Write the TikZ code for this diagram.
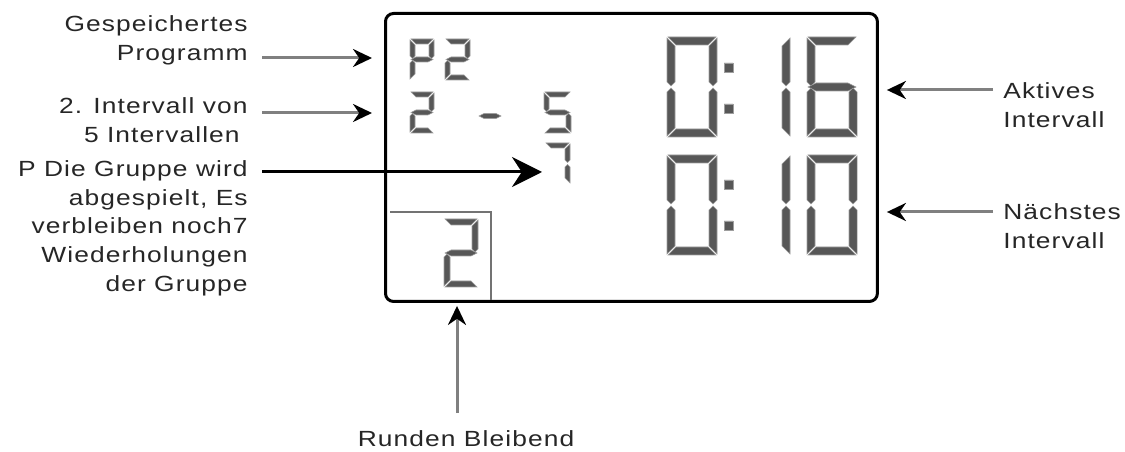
\documentclass[tikz,border=0pt]{standalone}
\usepackage{fontspec}
\setmainfont{Liberation Sans}[LetterSpace=5, FakeStretch=1.2]
\usetikzlibrary{arrows.meta}

% one seven-segment digit: x, y (top left), width, height, stroke, segments
\newcommand\lcddigit[6]{%
  \def\dgX{#1}\def\dgY{#2}\def\dgW{#3}\def\dgH{#4}\def\dgT{#5}%
  \foreach \dgS in {#6}{\csname lcdseg\dgS\endcsname}}
\newcommand\lcdsega{\filldraw[lcdseg] ({\dgX+1},\dgY) -- ({\dgX+\dgW-1},\dgY) -- ({\dgX+\dgW-1-\dgT},{\dgY+\dgT}) -- ({\dgX+1+\dgT},{\dgY+\dgT}) -- cycle;}
\newcommand\lcdsegb{\filldraw[lcdseg] ({\dgX+\dgW},{\dgY+1}) -- ({\dgX+\dgW},{\dgY+\dgH/2-\dgT/2-1}) -- ({\dgX+\dgW-\dgT/2},{\dgY+\dgH/2-1}) -- ({\dgX+\dgW-\dgT},{\dgY+\dgH/2-\dgT/2-1}) -- ({\dgX+\dgW-\dgT},{\dgY+\dgT+1}) -- cycle;}
\newcommand\lcdsegc{\filldraw[lcdseg] ({\dgX+\dgW},{\dgY+\dgH-1}) -- ({\dgX+\dgW},{\dgY+\dgH/2+\dgT/2+1}) -- ({\dgX+\dgW-\dgT/2},{\dgY+\dgH/2+1}) -- ({\dgX+\dgW-\dgT},{\dgY+\dgH/2+\dgT/2+1}) -- ({\dgX+\dgW-\dgT},{\dgY+\dgH-\dgT-1}) -- cycle;}
\newcommand\lcdsegd{\filldraw[lcdseg] ({\dgX+1},{\dgY+\dgH}) -- ({\dgX+\dgW-1},{\dgY+\dgH}) -- ({\dgX+\dgW-1-\dgT},{\dgY+\dgH-\dgT}) -- ({\dgX+1+\dgT},{\dgY+\dgH-\dgT}) -- cycle;}
\newcommand\lcdsege{\filldraw[lcdseg] (\dgX,{\dgY+\dgH-1}) -- (\dgX,{\dgY+\dgH/2+\dgT/2+1}) -- ({\dgX+\dgT/2},{\dgY+\dgH/2+1}) -- ({\dgX+\dgT},{\dgY+\dgH/2+\dgT/2+1}) -- ({\dgX+\dgT},{\dgY+\dgH-\dgT-1}) -- cycle;}
\newcommand\lcdsegf{\filldraw[lcdseg] (\dgX,{\dgY+1}) -- (\dgX,{\dgY+\dgH/2-\dgT/2-1}) -- ({\dgX+\dgT/2},{\dgY+\dgH/2-1}) -- ({\dgX+\dgT},{\dgY+\dgH/2-\dgT/2-1}) -- ({\dgX+\dgT},{\dgY+\dgT+1}) -- cycle;}
\newcommand\lcdsegg{\filldraw[lcdseg] ({\dgX+1},{\dgY+\dgH/2}) -- ({\dgX+1+\dgT},{\dgY+\dgH/2-\dgT/2}) -- ({\dgX+\dgW-1-\dgT},{\dgY+\dgH/2-\dgT/2}) -- ({\dgX+\dgW-1},{\dgY+\dgH/2}) -- ({\dgX+\dgW-1-\dgT},{\dgY+\dgH/2+\dgT/2}) -- ({\dgX+1+\dgT},{\dgY+\dgH/2+\dgT/2}) -- cycle;}

\begin{document}
\begin{tikzpicture}[x=0.02cm, y=-0.02cm, font=\fontsize{12.5}{16.4}\selectfont,
    lbl/.style={inner sep=0pt, text=black!85},
    lcdseg/.style={fill=black!66, draw=black!38, line width=0.3pt},
    lcdbox/.style={draw, line width=0.06cm, rounded corners=0.16cm, inner sep=0pt, minimum width=9.84cm, minimum height=5.76cm},
    pointer/.style={draw=black!50, line width=0.06cm, -{Stealth[length=0.38cm, width=0.36cm, color=black]}},
    bigpointer/.style={draw=black, line width=0.06cm, -{Stealth[length=0.6cm, width=0.6cm]}}]
  \useasboundingbox (0,0) rectangle (1125,452);

  % display
  \node[lcdbox, anchor=north west] (lcd) at (384,12) {};
  \lcddigit{410}{39}{24}{41}{5}{a,b,f,g,e}
  \lcddigit{445}{39}{25}{41}{5}{a,b,g,e,d}
  \lcddigit{410}{92}{24}{41}{5}{a,b,g,e,d}
  \lcddigit{478}{95}{24}{42}{5}{g}
  \lcddigit{544}{92}{27}{41}{5}{a,f,g,c,d}
  \lcddigit{545}{143}{25}{41}{5}{a,b,c}
  \lcddigit{667}{37}{50}{100}{8}{a,b,c,d,e,f}
  \lcddigit{740}{37}{50}{100}{8}{b,c}
  \lcddigit{807}{37}{50}{100}{8}{a,f,g,e,c,d}
  \lcddigit{667}{155}{50}{100}{8}{a,b,c,d,e,f}
  \lcddigit{740}{155}{50}{100}{8}{b,c}
  \lcddigit{807}{155}{50}{100}{8}{a,b,c,d,e,f}
  \lcddigit{444}{219}{34}{68}{6}{a,b,g,e,d}
  \filldraw[lcdseg] (724,63) rectangle (733,72) (724,104) rectangle (733,113);
  \filldraw[lcdseg] (724,180) rectangle (733,189) (724,221) rectangle (733,230);
  \draw[black!55, line width=0.04cm] (390,212) -| (491,300);

  % labels
  \node[lbl, anchor=north east, align=right] (prog) at (248,15) {Gespeichertes\\Programm};
  \node[lbl, anchor=north east, align=right] (intv) at (248,97) {2. Intervall von\\5 Intervallen\hspace*{0.16cm}};
  \node[lbl, anchor=north east, align=right] (grp) at (248,160) {P Die Gruppe wird\\abgespielt, Es\\verbleiben noch7\\Wiederholungen\\der Gruppe};
  \node[lbl, anchor=north west, align=left] (akt) at (1003,82) {Aktives\\Intervall};
  \node[lbl, anchor=north west, align=left] (next) at (1003,203) {Nächstes\\Intervall};
  \node[lbl, anchor=north] (rnd) at (466,430) {Runden Bleibend};

  % pointers
  \coordinate (progfrom) at (262,58);
  \coordinate (intvfrom) at (262,113);
  \coordinate (grpfrom) at (262,172);
  \coordinate (seven) at (542,172);
  \coordinate (aktfrom) at (993,90);
  \coordinate (nextfrom) at (993,212);
  \coordinate (rndfrom) at (457,413);
  \draw[pointer, shorten >=0.24cm] (progfrom) -- (progfrom -| lcd.west);
  \draw[pointer, shorten >=0.24cm] (intvfrom) -- (intvfrom -| lcd.west);
  \draw[bigpointer] (grpfrom) -- (seven);
  \draw[pointer, shorten >=0.16cm] (aktfrom) -- (aktfrom -| lcd.east);
  \draw[pointer, shorten >=0.16cm] (nextfrom) -- (nextfrom -| lcd.east);
  \draw[pointer, shorten >=0.06cm] (rndfrom) -- (rndfrom |- lcd.south);
\end{tikzpicture}
\end{document}
